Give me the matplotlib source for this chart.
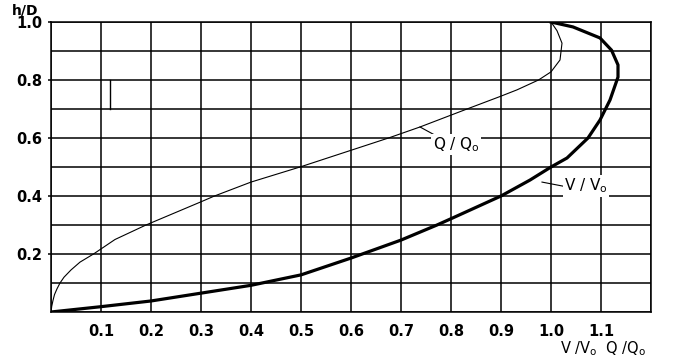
import matplotlib
matplotlib.use('Agg')
import matplotlib.pyplot as plt
import numpy as np

plt.rcParams['font.family'] = ['DejaVu Sans']
plt.rcParams['mathtext.fontset'] = 'dejavusans'

# relative depth h/D and the curves
q_hd = [0, 0.02, 0.04, 0.06, 0.08, 0.1, 0.12, 0.145, 0.172, 0.2, 0.25, 0.3, 0.38, 0.4, 0.448,
        0.5, 0.6, 0.638, 0.7, 0.743, 0.766, 0.8, 0.828, 0.869, 0.927, 0.97, 1.0]
q_ratio = [0, 0.0015, 0.004, 0.007, 0.012, 0.018, 0.026, 0.04, 0.058, 0.085, 0.128, 0.19, 0.30, 0.327, 0.40,
           0.498, 0.675, 0.738, 0.832, 0.898, 0.932, 0.975, 1.0, 1.018, 1.022, 1.012, 1.0]

v_hd = [0, 0.018, 0.038, 0.065, 0.092, 0.128, 0.186, 0.248, 0.3, 0.324, 0.4, 0.455,
        0.5, 0.531, 0.6, 0.662, 0.731, 0.81, 0.852, 0.903, 0.945, 0.983, 1.0]
v_ratio = [0, 0.098, 0.2, 0.3, 0.4, 0.5, 0.6, 0.7, 0.772, 0.803, 0.9, 0.958,
           1.0, 1.032, 1.074, 1.098, 1.118, 1.134, 1.134, 1.121, 1.098, 1.044, 1.0]

x_ticks = [0.1, 0.2, 0.3, 0.4, 0.5, 0.6, 0.7, 0.8, 0.9, 1.0, 1.1]
x_labels = ['0.1', '0.2', '0.3', '0.4', '0.5', '0.6', '0.7', '0.8', '0.9', '1.0', '1.1']
y_ticks = [0.2, 0.4, 0.6, 0.8, 1.0]
y_labels = ['0.2', '0.4', '0.6', '0.8', '1.0']

fig = plt.figure(figsize=(6.86, 3.59), dpi=100)
ax = fig.add_axes([51/686, 1-312/359, 600/686, 290/359])

ax.set_xlim(0, 1.2)
ax.set_ylim(0, 1.0)
ax.set_xticks(x_ticks)
ax.set_xticklabels(x_labels)
ax.set_yticks(y_ticks)
ax.set_yticklabels(y_labels)
ax.set_xticks(np.arange(0, 1.21, 0.1), minor=True)
ax.set_yticks(np.arange(0, 1.01, 0.1), minor=True)
ax.grid(which='both', color='black', linewidth=1.1)
ax.tick_params(axis='x', which='both', length=0, pad=9, labelsize=10.5)
ax.tick_params(axis='y', which='major', length=2.5, width=1.1, pad=4, labelsize=10.5)
ax.tick_params(axis='y', which='minor', length=0)
for lab in ax.get_xticklabels() + ax.get_yticklabels():
    lab.set_fontweight('bold')
for s in ax.spines.values():
    s.set_linewidth(1.1)

ax.plot(q_ratio, q_hd, color='black', linewidth=0.8, zorder=3)
ax.plot(v_ratio, v_hd, color='black', linewidth=2.3, zorder=3)

# stray mark in the original
ax.plot([0.118, 0.118], [0.7, 0.8], color='black', linewidth=1.0, zorder=3)

# leader lines and curve labels
ax.plot([0.738, 0.772], [0.638, 0.606], color='black', linewidth=0.8, zorder=3)
ax.text(0.81, 0.578, r'Q / Q$_\mathregular{o}$', fontsize=11, ha='center', va='center',
        bbox=dict(facecolor='white', edgecolor='none', pad=1), zorder=4)
ax.plot([0.982, 1.036], [0.448, 0.43], color='black', linewidth=0.8, zorder=3)
ax.text(1.07, 0.435, r'V / V$_\mathregular{o}$', fontsize=11, ha='center', va='center',
        bbox=dict(facecolor='white', edgecolor='none', pad=1), zorder=4)

fig.text(25/686, 1-10/359, 'h/D', fontsize=10, fontweight='bold', ha='center', va='center')
fig.text(603/686, 1-349/359, r'V /V$_\mathregular{o}$  Q /Q$_\mathregular{o}$',
         fontsize=10.5, ha='center', va='center')

fig.savefig('out.png', dpi=100)
